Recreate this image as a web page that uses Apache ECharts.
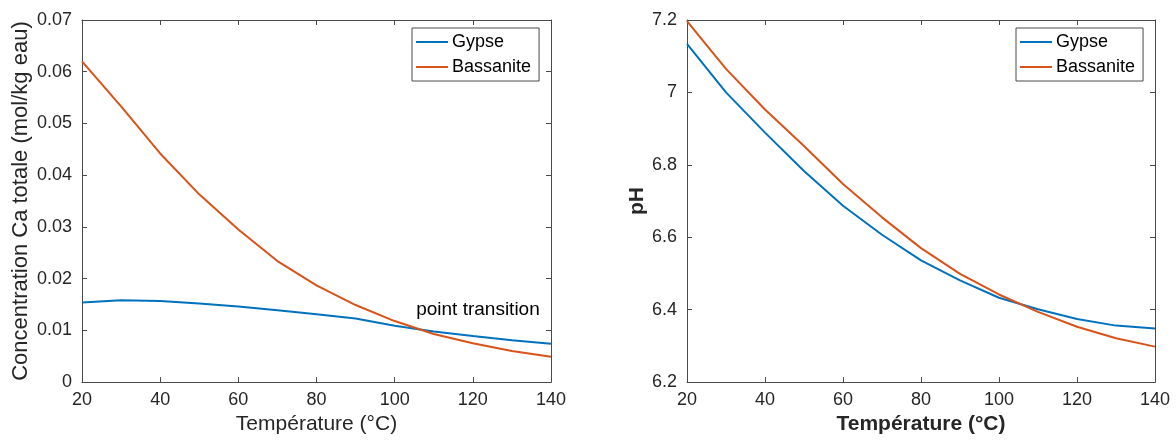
<!DOCTYPE html>
<html>
<head>
<meta charset="utf-8">
<script src="https://cdn.jsdelivr.net/npm/echarts@6/dist/echarts.min.js"></script>
<style>
html,body{margin:0;padding:0;background:#fff;}
#c{width:1176px;height:440px;}
</style>
</head>
<body>
<div id="c"></div>
<script>
const temps = [20, 30, 40, 50, 60, 70, 80, 90, 100, 110, 120, 130, 140];
const caGypse = [0.0154, 0.0158, 0.0157, 0.0152, 0.0146, 0.0139, 0.0131, 0.0123, 0.0109, 0.0098, 0.0089, 0.0081, 0.0074];
const caBassanite = [0.0620, 0.0533, 0.0442, 0.0363, 0.0295, 0.0234, 0.0187, 0.0149, 0.0118, 0.0093, 0.0075, 0.0060, 0.0049];
const phGypse = [7.134, 7.000, 6.889, 6.783, 6.687, 6.607, 6.536, 6.481, 6.433, 6.401, 6.374, 6.356, 6.348];
const phBassanite = [7.197, 7.065, 6.953, 6.852, 6.747, 6.655, 6.570, 6.499, 6.442, 6.394, 6.353, 6.321, 6.298];
const seriesNames = ['Gypse', 'Bassanite'];
const annotation = { text: 'point transition', at: [105.5, 0.0140] };

const BLUE = '#0072BD', ORANGE = '#D95319';
const AX = '#4a4a4a', TXT = '#262626';
const FONT = '"Liberation Sans", Arial, Helvetica, sans-serif';

function pairs(xs, ys) { return xs.map((x, i) => [x, ys[i]]); }

function xAx(grid, pos, name, bold) {
  return {
    gridIndex: grid, type: 'value', position: pos, min: 20, max: 140, interval: 20,
    name: pos === 'bottom' ? name : '', nameLocation: 'middle', nameGap: 31,
    nameTextStyle: { fontFamily: FONT, fontSize: 21, color: TXT, fontWeight: bold ? 'bold' : 'normal' },
    axisLine: { show: true, onZero: false, lineStyle: { color: AX, width: 1 } },
    axisTick: { show: true, inside: true, length: 5, lineStyle: { color: AX } },
    axisLabel: { show: pos === 'bottom', fontFamily: FONT, fontSize: 18, color: TXT, margin: 9 },
    splitLine: { show: false }
  };
}
function yAx(grid, pos, min, max, interval, name, gap, bold, nameSize) {
  return {
    gridIndex: grid, type: 'value', position: pos, min: min, max: max, interval: interval,
    name: pos === 'left' ? name : '', nameLocation: 'middle', nameGap: gap,
    nameTextStyle: { fontFamily: FONT, fontSize: nameSize || 21, color: TXT, fontWeight: bold ? 'bold' : 'normal' },
    axisLine: { show: true, onZero: false, lineStyle: { color: AX, width: 1 } },
    axisTick: { show: true, inside: true, length: 5, lineStyle: { color: AX } },
    axisLabel: { show: pos === 'left', fontFamily: FONT, fontSize: 18, color: TXT, margin: 10 },
    splitLine: { show: false }
  };
}
function legend(left) {
  return {
    left: left, top: 28, orient: 'vertical', icon: 'rect', itemWidth: 32, itemHeight: 2, itemGap: 5,
    padding: [4, 8, 4, 4], borderColor: AX, borderWidth: 1, backgroundColor: '#fff',
    data: seriesNames,
    textStyle: { fontFamily: FONT, fontSize: 18, color: '#000', lineHeight: 20, padding: [0, 0, 0, -1] }
  };
}
function line(name, color, xi, yi, data, extra) {
  return Object.assign({
    name: name, type: 'line', xAxisIndex: xi, yAxisIndex: yi, data: data,
    showSymbol: false, symbol: 'none', smooth: false,
    lineStyle: { color: color, width: 2 }, itemStyle: { color: color }
  }, extra || {});
}

const chart = echarts.init(document.getElementById('c'), null, { renderer: 'canvas' });
chart.setOption({
  animation: false,
  backgroundColor: '#fff',
  grid: [
    { left: 82, right: 625, top: 20, bottom: 57 },
    { left: 687, right: 21, top: 20, bottom: 56 }
  ],
  xAxis: [
    xAx(0, 'bottom', 'Température (°C)', false),
    xAx(0, 'top', '', false),
    xAx(1, 'bottom', 'Température (°C)', true),
    xAx(1, 'top', '', true)
  ],
  yAxis: [
    yAx(0, 'left', 0, 0.07, 0.01, 'Concentration Ca totale (mol/kg eau)', 50, false, 22),
    yAx(0, 'right', 0, 0.07, 0.01, '', 0, false),
    yAx(1, 'left', 6.2, 7.2, 0.2, 'pH', 37, true, 21),
    yAx(1, 'right', 6.2, 7.2, 0.2, '', 0, true)
  ],
  legend: [legend(412), legend(1016)],
  series: [
    line(seriesNames[0], BLUE, 0, 0, pairs(temps, caGypse), {
      markPoint: {
        silent: true, symbol: 'circle', symbolSize: 0,
        itemStyle: { color: 'rgba(0,0,0,0)' },
        label: { show: true, position: 'right', distance: 0, formatter: annotation.text,
                 fontFamily: FONT, fontSize: 19, color: '#000' },
        data: [{ coord: annotation.at }]
      }
    }),
    line(seriesNames[1], ORANGE, 0, 0, pairs(temps, caBassanite)),
    line(seriesNames[0], BLUE, 2, 2, pairs(temps, phGypse)),
    line(seriesNames[1], ORANGE, 2, 2, pairs(temps, phBassanite))
  ]
});
</script>
</body>
</html>
